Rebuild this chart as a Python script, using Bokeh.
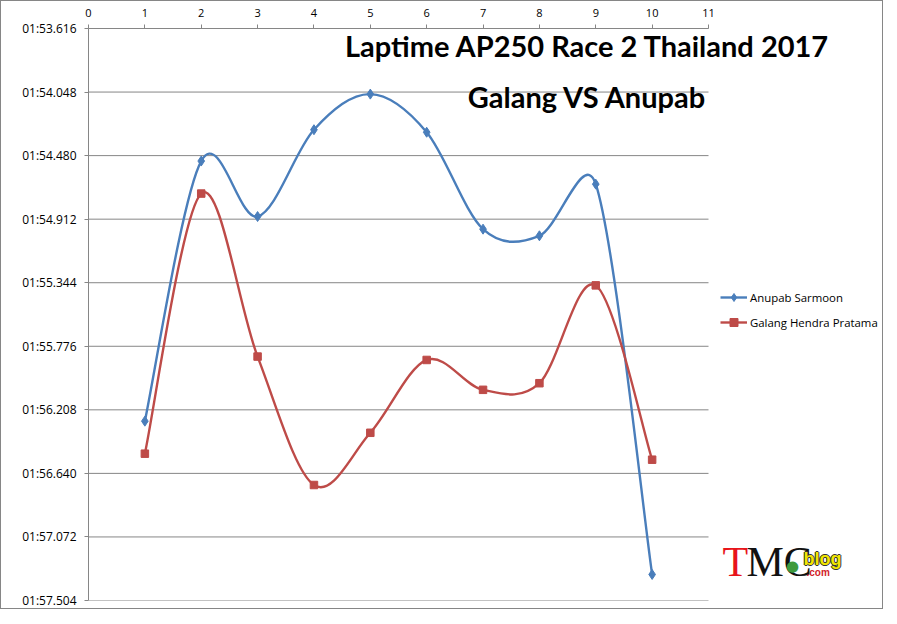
import numpy as np
from bokeh.plotting import figure
from bokeh.models import Range1d, FixedTicker, Label, Legend, LegendItem, ColumnDataSource
from bokeh.embed import file_html
from bokeh.resources import INLINE

# ---------------- data ----------------
laps = [1, 2, 3, 4, 5, 6, 7, 8, 9, 10]
anupab_times = ["01:56.285", "01:54.517", "01:54.894", "01:54.304", "01:54.062",
                "01:54.321", "01:54.980", "01:55.025", "01:54.674", "01:57.327"]
galang_times = ["01:56.506", "01:54.738", "01:55.846", "01:56.719", "01:56.364",
                "01:55.869", "01:56.072", "01:56.027", "01:55.362", "01:56.547"]
y_tick_labels = ["01:53.616", "01:54.048", "01:54.480", "01:54.912", "01:55.344",
                 "01:55.776", "01:56.208", "01:56.640", "01:57.072", "01:57.504"]
x_ticks = [0, 1, 2, 3, 4, 5, 6, 7, 8, 9, 10, 11]
series_names = ["Anupab Sarmoon", "Galang Hendra Pratama"]
title_lines = ["Laptime AP250 Race 2 Thailand 2017", "Galang VS Anupab"]


def to_sec(s):
    m, r = s.split(":")
    return int(m) * 60 + float(r)


anupab = [to_sec(t) for t in anupab_times]
galang = [to_sec(t) for t in galang_times]
y_ticks = [to_sec(t) for t in y_tick_labels]

BLUE = "#4A7EBB"
RED = "#BE4B48"
GRID = "#868686"

# layout (pixels)
ML, MT, MB = 87, 27, 8
FW, FH = 794, 572          # frame spans the chart + legend area
PLOT_W = 620               # width of the plotted axis span (0..11)
x_end = x_ticks[0] + (x_ticks[-1] - x_ticks[0]) * FW / PLOT_W

p = figure(frame_width=FW, frame_height=FH, output_backend="svg", toolbar_location=None,
           x_axis_location="above",
           x_range=Range1d(x_ticks[0], x_end),
           y_range=Range1d(y_ticks[-1], y_ticks[0]),
           min_border_left=ML, min_border_right=0,
           min_border_top=MT, min_border_bottom=MB)
p.outline_line_color = None
p.background_fill_color = "white"
p.border_fill_color = "white"
p.styles = {"border": "1px solid #868686", "box-sizing": "border-box"}

# axes
xa = p.xaxis[0]
xa.ticker = FixedTicker(ticks=x_ticks)
xa.bounds = (x_ticks[0], x_ticks[-1])
xa.minor_tick_line_color = None
xa.major_tick_in = 0
xa.major_tick_out = 4
xa.axis_line_color = GRID
xa.major_tick_line_color = GRID
xa.major_label_text_font = "Open Sans"
xa.major_label_text_font_size = "11px"
xa.major_label_text_color = "#000000"
xa.major_label_standoff = 8

ya = p.yaxis[0]
ya.ticker = FixedTicker(ticks=y_ticks)
ya.major_label_overrides = {t: lbl for t, lbl in zip(y_ticks, y_tick_labels)}
ya.minor_tick_line_color = None
ya.major_tick_in = 0
ya.major_tick_out = 4
ya.axis_line_color = GRID
ya.major_tick_line_color = GRID
ya.major_label_text_font = "Open Sans"
ya.major_label_text_font_size = "12px"
ya.major_label_text_color = "#000000"
ya.major_label_standoff = 8

p.xgrid.grid_line_color = None
p.ygrid.grid_line_color = None
# horizontal gridlines limited to the axis span
p.segment(x0=[x_ticks[0]] * len(y_ticks), x1=[x_ticks[-1]] * len(y_ticks),
          y0=y_ticks, y1=y_ticks, line_color=GRID, line_width=1)


# Excel-style smoothing as cubic Bezier segments (control points from data)
def excel_bezier(xs, ys, sx, sy):
    P = np.column_stack([np.asarray(xs, float) * sx, np.asarray(ys, float) * sy])
    n = len(P)
    out = {k: [] for k in ["x0", "y0", "x1", "y1", "cx0", "cy0", "cx1", "cy1"]}
    for i in range(n - 1):
        p0 = P[i - 1] if i > 0 else P[i]
        p1 = P[i]
        p2 = P[i + 1]
        p3 = P[i + 2] if i + 2 < n else P[i + 1]
        d12 = np.hypot(*(p2 - p1))
        d02 = np.hypot(*(p2 - p0))
        d13 = np.hypot(*(p3 - p1))
        f1 = 1 / 6
        f2 = 1 / 6
        if d02 > 0 and d02 / 6 > d12 / 2:
            f1 = d12 / (2 * d02)
        if d13 > 0 and d13 / 6 > d12 / 2:
            f2 = d12 / (2 * d13)
        c1 = p1 + (p2 - p0) * f1
        c2 = p2 - (p3 - p1) * f2
        out["x0"].append(p1[0] / sx); out["y0"].append(p1[1] / sy)
        out["x1"].append(p2[0] / sx); out["y1"].append(p2[1] / sy)
        out["cx0"].append(c1[0] / sx); out["cy0"].append(c1[1] / sy)
        out["cx1"].append(c2[0] / sx); out["cy1"].append(c2[1] / sy)
    return out


sx = PLOT_W / (x_ticks[-1] - x_ticks[0])
sy = FH / (y_ticks[-1] - y_ticks[0])

items = []
for name, ys, color, marker, msize in [
        (series_names[0], anupab, BLUE, "diamond", 10),
        (series_names[1], galang, RED, "square", 7.5)]:
    bz = ColumnDataSource(excel_bezier(laps, ys, sx, sy))
    r1 = p.bezier(x0="x0", y0="y0", x1="x1", y1="y1", cx0="cx0", cy0="cy0",
                  cx1="cx1", cy1="cy1", source=bz, line_color=color, line_width=2.4)
    r2 = p.scatter(laps, ys, marker=marker, size=msize, fill_color=color,
                   line_color=color)
    items.append(LegendItem(label=name, renderers=[r1, r2]))

legend = Legend(items=items, location=(632, 268), orientation="vertical")
legend.border_line_color = None
legend.background_fill_alpha = 0
legend.label_text_font = "Open Sans"
legend.label_text_font_size = "11.4px"
legend.label_text_color = "#000000"
legend.glyph_width = 27
legend.glyph_height = 20
legend.label_standoff = 3
legend.spacing = 5
legend.padding = 5
legend.margin = 0
p.add_layout(legend)


# helpers to place text by reference-pixel positions in data units
def dx(px):
    return x_ticks[0] + (px - 88) / sx


def dy(py):
    return y_ticks[0] + (py - 28) / sy


p.add_layout(Label(x=dx(587), y=dy(45), text=title_lines[0], text_align="center",
                   text_baseline="middle", text_font="Lato", text_font_style="bold",
                   text_font_size="29px", text_color="#000000"))
p.add_layout(Label(x=dx(587), y=dy(96), text=title_lines[1], text_align="center",
                   text_baseline="middle", text_font="Lato", text_font_style="bold",
                   text_font_size="29px", text_color="#000000"))

# logo
p.add_layout(Label(x=dx(722), y=dy(561), text="T", text_align="left",
                   text_baseline="middle", text_font="Liberation Serif",
                   text_font_size="42px", text_color="#E8141B"))
p.add_layout(Label(x=dx(746), y=dy(561), text="MC", text_align="left",
                   text_baseline="middle", text_font="Liberation Serif",
                   text_font_size="42px", text_color="#111111"))
p.add_layout(Label(x=dx(792), y=dy(565), text="\u25CF", text_align="center",
                   text_baseline="middle", text_font="DejaVu Sans",
                   text_font_size="15px", text_color="#3E9B3E"))
for ox, oy in [(-1, 0), (1, 0), (0, -1), (0, 1)]:
    p.add_layout(Label(x=dx(803), y=dy(558), x_offset=ox, y_offset=oy, text="blog",
                       text_align="left", text_baseline="middle",
                       text_font="Liberation Sans", text_font_style="bold",
                       text_font_size="18px", text_color="#333333"))
p.add_layout(Label(x=dx(803), y=dy(558), text="blog", text_align="left",
                   text_baseline="middle", text_font="Liberation Sans",
                   text_font_style="bold", text_font_size="18px", text_color="#F2E600"))
p.add_layout(Label(x=dx(806), y=dy(572), text=".com", text_align="left",
                   text_baseline="middle", text_font="Liberation Sans",
                   text_font_style="bold", text_font_size="10px", text_color="#D2232A"))

open("out.html", "w").write(file_html(p, INLINE))
